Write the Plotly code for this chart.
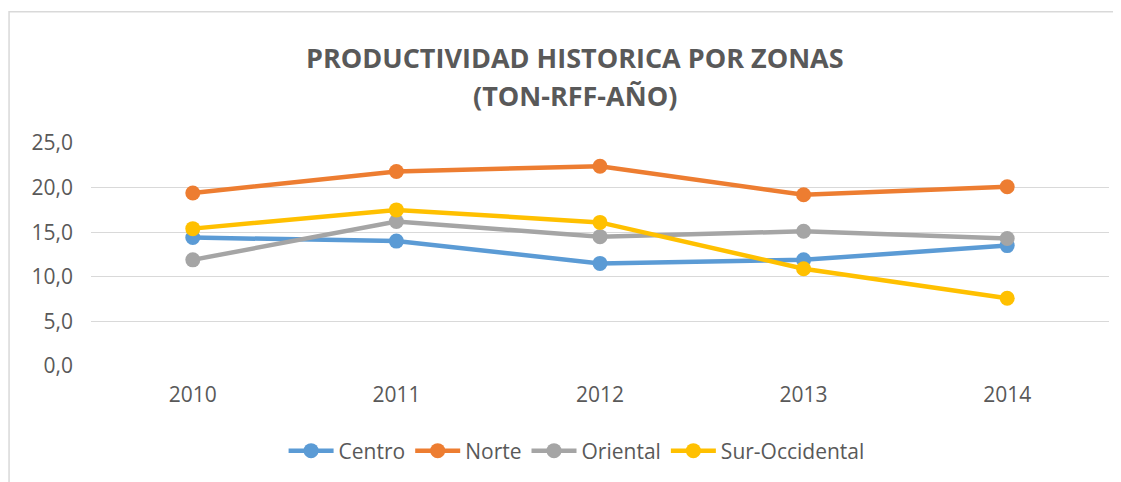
import plotly.graph_objects as go

# datos
years = ["2010", "2011", "2012", "2013", "2014"]
centro = [14.4, 14.0, 11.5, 11.9, 13.5]
norte = [19.4, 21.8, 22.4, 19.2, 20.1]
oriental = [11.9, 16.2, 14.5, 15.1, 14.3]
sur_occidental = [15.4, 17.5, 16.1, 10.9, 7.6]

series = [
    ("Centro", centro, "#5B9BD5"),
    ("Norte", norte, "#ED7D31"),
    ("Oriental", oriental, "#A5A5A5"),
    ("Sur-Occidental", sur_occidental, "#FFC000"),
]

fig = go.Figure()
for name, vals, col in series:
    fig.add_trace(go.Scatter(x=years, y=vals, name=name, mode="lines+markers",
                             line=dict(color=col, width=4.5),
                             marker=dict(color=col, size=15)))

font_fam = "Open Sans, sans-serif"
# la pagina tiene 8px de margen en el body, por eso la figura es algo menor
fig.update_layout(
    width=1113, height=474,
    margin=dict(l=83, r=12, t=135, b=115),
    paper_bgcolor="white", plot_bgcolor="white",
    separators=",.",
    font=dict(family=font_fam, color="#595959", size=20),
    showlegend=True,
    legend=dict(orientation="h", x=0.477, xanchor="center", y=-0.375, yanchor="middle",
                font=dict(size=21, color="#595959"), tracegroupgap=0, itemwidth=45),
)
fig.add_annotation(text="<b>PRODUCTIVIDAD HISTORICA POR ZONAS</b>", xref="paper", yref="paper",
                   x=0.475, y=(359 - 49) / 224, xanchor="center", yanchor="middle",
                   showarrow=False, font=dict(size=27, color="#595959"))
fig.add_annotation(text="<b>(TON-RFF-AÑO)</b>", xref="paper", yref="paper",
                   x=0.475, y=(359 - 87) / 224, xanchor="center", yanchor="middle",
                   showarrow=False, font=dict(size=27, color="#595959"))

fig.update_xaxes(type="category", range=[-0.5, 4.5], showgrid=False, showline=False, ticks="",
                 tickfont=dict(size=21, color="#595959"), ticklabelstandoff=14)
fig.update_yaxes(range=[0, 25], dtick=5, tickformat=".1f", showgrid=True,
                 gridcolor="#D9D9D9", gridwidth=1, zeroline=False, showline=False,
                 tickfont=dict(size=21, color="#595959"), ticklabelstandoff=17)

# marco del area del grafico
fig.add_shape(type="rect", xref="paper", yref="paper",
              x0=-0.0805, x1=1.05, y0=-0.7, y1=1.589,
              line=dict(color="#D9D9D9", width=1.5), layer="below")

fig.write_html("out.html")
